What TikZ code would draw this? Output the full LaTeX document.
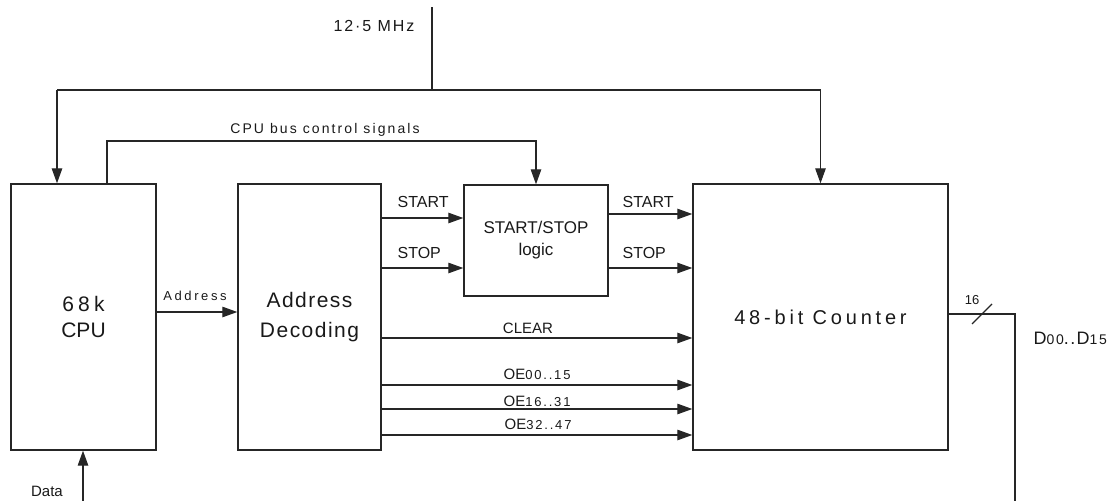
\documentclass[tikz,border=0pt]{standalone}
\usepackage{fontspec}
\setmainfont{Liberation Sans}
\usetikzlibrary{arrows.meta}
\newcommand{\txt}[3]{\fontsize{#1}{#2}\selectfont\addfontfeatures{LetterSpace=#3}}
\newcommand{\sm}[1]{{\fontsize{13}{14}\selectfont\addfontfeatures{LetterSpace=14}#1}}
\newcommand{\smd}[1]{{\fontsize{14}{15}\selectfont\addfontfeatures{LetterSpace=12}#1}}
\begin{document}
\begin{tikzpicture}[x=1pt,y=-1pt,line width=1.2pt,color=black!85,
  >={Triangle[length=15pt,width=10.5pt]},
  blk/.style={draw=black!85,line width=1.4pt,inner sep=0pt,align=center,text=black!90},
  lbl/.style={inner sep=0pt,text=black!90}]
\useasboundingbox (0,0) rectangle (1120,501);
% blocks
\node[blk,minimum width=145pt,minimum height=266pt,font=\txt{21}{26}{0}] (cpu) at (83.5,317) {{\addfontfeatures{LetterSpace=20}68k}\\CPU};
\node[blk,minimum width=143pt,minimum height=266pt,font=\txt{21}{30}{7}] (addr) at (309.5,317) {Address\\Decoding};
\node[blk,minimum width=144pt,minimum height=111pt,font=\txt{17}{22}{0}] (ss) at (536,240.5) {START/STOP\\logic};
\node[blk,minimum width=255pt,minimum height=266pt,font=\txt{20}{24}{19}] (cnt) at (820.5,317) {48-bit Counter};
% reference coordinates
\coordinate (clk) at (432,7);
\coordinate (cj) at (432,90);
\coordinate (c1) at (57,90);
\coordinate (c2) at (820.5,90);
\coordinate (b1) at (107,141);
\coordinate (b2) at (536,141);
\coordinate (ya) at (0,312);
\coordinate (ys1) at (0,218);
\coordinate (ys2) at (0,268);
\coordinate (yr1) at (0,214);
\coordinate (yr2) at (0,268);
\coordinate (yc) at (0,338);
\coordinate (yo1) at (0,385);
\coordinate (yo2) at (0,409);
\coordinate (yo3) at (0,435);
\coordinate (d0) at (83,501);
\coordinate (bc) at (1015,314);
\coordinate (bb) at (1015,501);
\coordinate (s1) at (972,324);
\coordinate (s2) at (992,304);
% clock
\draw (clk) -- (cj);
\draw (c1) -- (c2);
\draw[->] (c1) -- (c1 |- cpu.north);
\draw[->] (c2) -- (c2 |- cnt.north);
% cpu bus control
\draw[->] (cpu.north -| b1) |- (b2) -- (ss.north);
% address
\draw[->] (cpu.east |- ya) -- (addr.west |- ya);
% start/stop
\draw[->] (addr.east |- ys1) -- (ss.west |- ys1);
\draw[->] (addr.east |- ys2) -- (ss.west |- ys2);
\draw[->] (ss.east |- yr1) -- (cnt.west |- yr1);
\draw[->] (ss.east |- yr2) -- (cnt.west |- yr2);
% clear and OE
\draw[->] (addr.east |- yc) -- (cnt.west |- yc);
\draw[->] (addr.east |- yo1) -- (cnt.west |- yo1);
\draw[->] (addr.east |- yo2) -- (cnt.west |- yo2);
\draw[->] (addr.east |- yo3) -- (cnt.west |- yo3);
% data
\draw[->] (d0) -- (d0 |- cpu.south);
% output bus
\draw (cnt.east |- bc) -- (bc) -- (bb);
\draw (s1) -- (s2);
% labels
\node[lbl,font=\txt{16}{18}{12}] (lclk) at (374,26) {12·5 MHz};
\node[lbl,font=\txt{14}{16}{15},anchor=base] (lbus) at (325,133) {CPU bus control signals};
\node[lbl,font=\txt{13}{15}{20}] (ladr) at (195,296) {Address};
\node[lbl,font=\txt{16}{18}{0},anchor=west] (ls1) at (397,202) {START};
\node[lbl,font=\txt{16}{18}{0},anchor=west] (ls2) at (397,253) {STOP};
\node[lbl,font=\txt{16}{18}{0},anchor=west] (lr1) at (622,202) {START};
\node[lbl,font=\txt{16}{18}{0},anchor=west] (lr2) at (622,253) {STOP};
\node[lbl,font=\txt{15}{17}{0}] (lclr) at (528,328) {CLEAR};
\node[lbl,font=\txt{15}{17}{0},anchor=west] (lo1) at (503,374) {OE\sm{00..15}};
\node[lbl,font=\txt{15}{17}{0},anchor=west] (lo2) at (503,401) {OE\sm{16..31}};
\node[lbl,font=\txt{15}{17}{0},anchor=west] (lo3) at (504,424) {OE\sm{32..47}};
\node[lbl,font=\txt{15}{17}{0}] (ldat) at (47,491) {Data};
\node[lbl,font=\txt{13}{15}{0}] (l16) at (972,300) {16};
\node[lbl,font=\txt{18}{20}{8},anchor=west] (ld) at (1033,338) {D\smd{00}..D\smd{15}};
\end{tikzpicture}
\end{document}
